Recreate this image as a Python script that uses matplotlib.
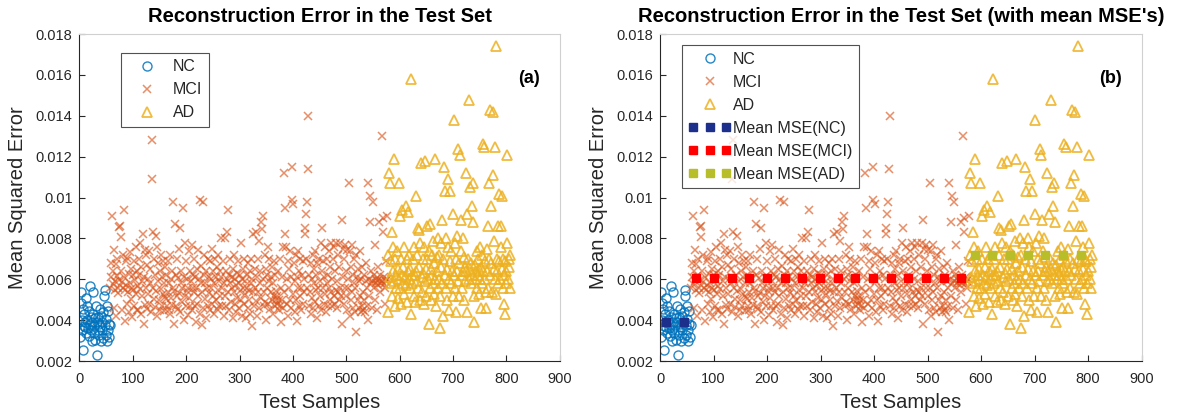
import numpy as np
import matplotlib.pyplot as plt
from matplotlib.legend_handler import HandlerLine2D

plt.rcParams['font.family'] = ['Liberation Sans', 'DejaVu Sans']

# Reconstruction MSE per test sample, stored in units of 1e-5
nc_mse = [318, 540, 485, 400, 352, 455, 252, 372, 430, 390, 365, 510, 338, 470, 402,
          360, 445, 322, 380, 565, 415, 350, 298, 392, 540, 430, 335, 372, 410, 305,
          468, 390, 230, 352, 418, 330, 380, 455, 365, 298, 420, 350, 392, 312, 440,
          520, 548, 378, 330, 405, 468, 300, 350, 445, 380, 318, 375]

mci_mse = [560, 612, 680, 910, 575, 640, 462, 745, 590, 548, 675, 420, 618, 700, 560,
           532, 598, 855, 862, 808, 640, 452, 585, 720, 560, 940, 612, 395, 548, 690,
           572, 480, 705, 538, 625, 440, 580, 735, 505, 650, 560, 415, 620, 548, 690,
           470, 595, 760, 530, 452, 642, 568,
           450, 620, 700, 555, 780, 430, 660, 590, 520, 820, 380, 610, 742, 475, 560,
           720, 455, 668, 530, 600, 740, 480, 580, 650, 440, 1090, 1280, 830, 560, 700,
           505, 465, 620, 810, 545, 760, 420, 590, 680, 500, 450, 640, 555, 720, 470,
           610, 530, 690, 445, 580, 515, 660,
           505, 620, 470, 690, 540, 450, 580, 720, 430, 600, 510, 640, 475, 560, 980,
           380, 545, 870, 620, 470, 700, 520, 455, 605, 750, 535, 440, 850, 580, 640,
           490, 560, 950, 400, 610, 520, 780, 470, 690, 545, 600, 425, 560, 740, 510,
           640, 470, 590, 770, 450, 560, 620,
           540, 700, 470, 610, 390, 560, 650, 480, 745, 520, 600, 990, 430, 580, 665,
           375, 540, 980, 460, 620, 720, 505, 580, 410, 640, 560, 700, 470, 610, 535,
           450, 690, 560, 600, 480, 750, 520, 640, 430, 580, 700, 500, 610, 455, 660,
           550, 720, 470, 590, 640, 520, 800,
           610, 470, 560, 690, 420, 580, 800, 520, 640, 470, 600, 830, 540, 940, 450,
           620, 580, 700, 490, 610, 560, 410, 650, 540, 720, 480, 600, 570, 440, 630,
           510, 690, 580, 460, 620, 545, 780, 500, 600, 420, 560, 650, 480, 700, 590,
           530, 410, 620, 560, 460, 680, 545,
           500, 640, 430, 580, 700, 370, 600, 540, 820, 470, 650, 560, 830, 495, 610,
           420, 700, 540, 790, 460, 580, 640, 510, 880, 845, 910, 600, 470, 540, 720,
           490, 650, 400, 560, 620, 760, 480, 590, 700, 455, 540, 610, 500, 660, 430,
           580, 520, 690, 470, 620, 545, 500,
           480, 520, 640, 450, 500, 700, 470, 560, 390, 610, 500, 760, 460, 540, 1120,
           950, 820, 760, 600, 480, 690, 420, 560, 650, 500, 740, 460, 610, 990, 1150,
           530, 970, 680, 440, 590, 720, 500, 610, 395, 560, 740, 470, 640, 520, 700,
           560, 450, 620, 480, 690, 540, 600,
           850, 820, 920, 700, 560, 980, 1140, 1400, 470, 620, 540, 680, 430, 600, 510,
           720, 460, 580, 650, 490, 740, 550, 620, 410, 680, 560, 470, 700, 590, 520,
           780, 450, 640, 850, 560, 690, 480, 610, 760, 530, 440, 700, 580, 620, 470,
           740, 560, 660, 500, 780, 540, 470,
           600, 700, 520, 760, 480, 640, 550, 780, 590, 460, 720, 540, 500, 660, 560,
           780, 520, 890, 380, 610, 750, 480, 700, 560, 770, 640, 520, 745, 450, 600,
           560, 1070, 420, 740, 500, 660, 540, 770, 460, 620, 580, 700, 440, 560, 720,
           340, 610, 500, 650, 460, 590, 740,
           520, 440, 600, 470, 660, 540, 450, 620, 500, 440, 590, 680, 470, 560, 1070,
           400, 600, 520, 880, 1010, 580, 640, 460, 590, 980, 560, 620, 500, 770, 580,
           600, 450, 590, 660, 570, 600, 880, 540, 620, 580, 590, 1300, 830, 900, 575,
           610, 480, 560, 590, 690, 600, 910]

ad_mse = [440, 720, 1120, 610, 1070, 580, 690, 830, 520, 760, 640, 1190, 590, 470, 700,
          560, 620, 740, 510, 650, 600, 1070, 560, 910, 700, 480, 620, 940, 580, 660,
          530, 760, 610, 960, 570, 700, 490, 640, 930, 600, 720, 560, 650, 430, 1580, 620,
          580, 700, 520, 760, 620, 490, 640, 1010, 590, 720, 850, 560, 660, 840, 500,
          780, 1170, 610, 540, 700, 630, 480, 760, 590, 1180, 650, 520, 700, 860, 600,
          380, 740, 870, 560, 650, 500, 720, 620, 580, 790, 530, 680, 1190, 600, 470, 710,
          640, 560, 800, 600, 720, 360, 520, 660, 780, 580, 890, 420, 700, 1150, 620,
          1030, 560, 800, 650, 500, 760, 1090, 600, 450, 690, 1030, 580, 740, 640, 520,
          920, 1380, 620, 780, 560, 440, 700, 640, 810, 590, 1240, 680, 520, 1210, 890, 740,
          620, 560, 800, 640, 710, 500, 660, 590, 1120, 640, 440, 920, 700, 600, 1480,
          650, 1050, 580, 680, 960, 620, 1070, 880, 520, 390, 670, 600, 640, 740, 560,
          620, 700, 530, 650, 760, 600, 460, 660, 580, 720, 1260, 640, 1250, 690, 600, 540,
          460, 750, 640, 860, 560, 700, 1070, 620, 1430, 960, 680, 540, 1110, 1420, 650,
          790, 600, 1250, 530, 1740, 700, 640, 860, 580, 1020, 690, 600, 860, 760, 650,
          1010, 560, 700, 480, 620, 690, 430, 580, 640, 780, 1210, 600, 700, 660, 560, 720]

groups = ['NC', 'MCI', 'AD']
mean_labels = ['Mean MSE(NC)', 'Mean MSE(MCI)', 'Mean MSE(AD)']
xticks = [0, 100, 200, 300, 400, 500, 600, 700, 800, 900]
yticks = [0.002, 0.004, 0.006, 0.008, 0.010, 0.012, 0.014, 0.016, 0.018]
ytick_labels = ['0.002', '0.004', '0.006', '0.008', '0.01', '0.012', '0.014', '0.016', '0.018']

colors = ['#0072BD', '#D95319', '#EDB120']
mean_colors = ['#1c2f8a', '#ff0000', '#b8bd2a']
text_color = '#262626'

values = [np.array(v) * 1e-5 for v in (nc_mse, mci_mse, ad_mse)]
starts = np.cumsum([1] + [len(v) for v in values[:-1]])
samples = [np.arange(s, s + len(v)) for s, v in zip(starts, values)]


def draw_panel(ax, title, tag, with_means):
    ax.plot(samples[0], values[0], 'o', mfc='none', mec=colors[0], ms=6.5, mew=1.0,
            alpha=0.85, label=groups[0])
    ax.plot(samples[1], values[1], 'x', color=colors[1], ms=5.5, mew=1.1,
            alpha=0.65, label=groups[1])
    ax.plot(samples[2], values[2], '^', mfc='none', mec=colors[2], ms=7.5, mew=1.3,
            alpha=0.85, label=groups[2])

    mean_lines = []
    if with_means:
        for x, y, c, lab in zip(samples, values, mean_colors, mean_labels):
            line, = ax.plot(x, np.full(len(x), y.mean()), ls='none', marker='s', ms=5.5,
                            color=c, markevery=(10, 33), label=lab, zorder=5)
            mean_lines.append(line)

    ax.set_xlim(0, 900)
    ax.set_ylim(0.002, 0.018)
    ax.set_xticks(xticks)
    ax.set_yticks(yticks)
    ax.set_yticklabels(ytick_labels)
    ax.tick_params(direction='in', length=4, width=0.8, colors=text_color,
                   labelsize=10.5, pad=5)
    ax.tick_params(axis='x', pad=8)
    for side in ['left', 'bottom']:
        ax.spines[side].set_color(text_color)
        ax.spines[side].set_linewidth(0.8)
    for side in ['top', 'right']:
        ax.spines[side].set_color('#d0d0d0')
        ax.spines[side].set_linewidth(0.8)

    ax.set_title(title, fontsize=14.5, fontweight='bold', pad=9)
    ax.set_xlabel('Test Samples', fontsize=14.5, color=text_color, labelpad=5)
    ax.set_ylabel('Mean Squared Error', fontsize=14.5, color=text_color, labelpad=6)
    ax.text(0.936, 0.865, tag, transform=ax.transAxes, fontsize=13,
            fontweight='bold', ha='center', va='center')

    if with_means:
        leg = ax.legend(loc='upper left', bbox_to_anchor=(0.045, 0.966), borderaxespad=0,
                        fontsize=11.5, handlelength=2.7, handletextpad=0.1,
                        labelspacing=0.5, borderpad=0.4, fancybox=False,
                        handler_map={ln: HandlerLine2D(numpoints=3) for ln in mean_lines})
    else:
        leg = ax.legend(loc='upper left', bbox_to_anchor=(0.0865, 0.942), borderaxespad=0,
                        fontsize=11.5, handlelength=2.5, handletextpad=0.35,
                        labelspacing=0.5, borderpad=0.4, fancybox=False)
    leg.get_frame().set_edgecolor(text_color)
    leg.get_frame().set_linewidth(0.8)
    for t in leg.get_texts():
        t.set_color(text_color)


fig = plt.figure(figsize=(11.86, 4.16), dpi=100)
ax1 = fig.add_axes([0.067, 0.132, 0.405, 0.786])
ax2 = fig.add_axes([0.5565, 0.132, 0.406, 0.786])

draw_panel(ax1, 'Reconstruction Error in the Test Set', '(a)', False)
draw_panel(ax2, "Reconstruction Error in the Test Set (with mean MSE's)", '(b)', True)

fig.savefig('out.png', dpi=100)
